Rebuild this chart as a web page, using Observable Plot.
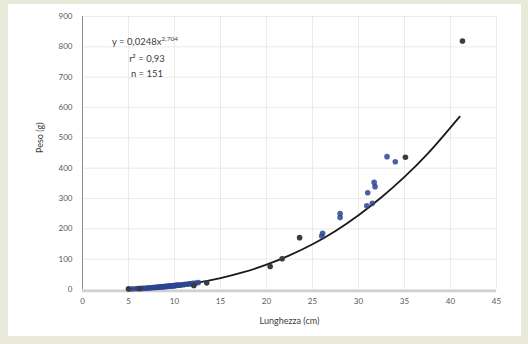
<!DOCTYPE html>
<html><head><meta charset="utf-8">
<script src="https://cdn.jsdelivr.net/npm/d3@7"></script>
<script src="https://cdn.jsdelivr.net/npm/@observablehq/plot@0.6"></script>
<style>
html,body{margin:0;padding:0;background:#e8e9d8;width:528px;height:344px;overflow:hidden}
#panel{position:absolute;left:8px;top:4px;width:513px;height:332px;background:#fff}
#chart{position:absolute;left:0;top:0}
</style></head>
<body><div id="panel"></div><div id="chart"></div>
<script>
const xTicks = [0,5,10,15,20,25,30,35,40,45];
const yTicks = [0,100,200,300,400,500,600,700,800,900];

const blueLen = [5.4,5.8,6.0,6.3,6.5,6.7,6.9,7.0,7.2,7.3,7.5,7.6,7.8,7.9,8.0,8.1,8.2,8.3,8.4,8.5,8.6,8.7,8.8,8.9,9.0,9.1,9.2,9.3,9.4,9.5,9.6,9.7,9.8,9.9,10.0,10.1,10.2,10.3,10.4,10.5,10.6,10.8,11.0,11.2,11.4,11.6,11.8,12.0,12.3,12.6,
  26.0,26.1,28.0,28.0,31.0,31.7,31.8,30.9,31.5,33.1,34.0];
const blueWt = [2.0,2.6,3.2,3.4,3.6,4.1,4.3,4.8,5.0,5.6,5.5,6.4,6.5,7.2,6.8,7.5,7.4,8.2,7.9,8.8,8.4,9.5,9.1,10.0,9.4,10.5,10.1,11.2,10.6,11.8,11.0,12.5,11.9,13.2,12.3,13.6,13.0,14.5,13.8,15.0,14.2,15.8,16.0,17.5,17.2,19.0,18.6,20.5,21.0,23.0,
  176,185,237,250,319,353,339,276,284,438,421];
const darkLen = [5.0,6.2,12.1,13.5,20.4,21.7,23.6,35.1,41.3];
const darkWt  = [2,3,13,22,76,101,171,436,819];

const trendLen = [5,7.5,10,12.5,15,17.5,20,22.5,25,27.5,30,32.5,35,37.5,41];
const trendWt  = [1.9,5.8,12.5,22.9,37.6,57.0,81.7,112.5,149,193,245,304,371,447,570];

const blue = blueLen.map((x,i)=>({x, y: blueWt[i]}));
const dark = darkLen.map((x,i)=>({x, y: darkWt[i]}));
const trend = trendLen.map((x,i)=>({x, y: trendWt[i]}));

const font = "Lato, 'Open Sans', sans-serif";
const plot = Plot.plot({
  width: 528, height: 344,
  marginLeft: 82, marginRight: 32, marginTop: 16, marginBottom: 55,
  style: {background: "transparent", fontFamily: font, fontSize: "8px", color: "#595959"},
  x: {domain: [0,45], ticks: xTicks, label: null, tickSize: 0, tickPadding: 9},
  y: {domain: [0,900], ticks: yTicks, label: null, tickSize: 0, tickPadding: 10},
  marks: [
    Plot.gridX(xTicks, {stroke: "#e6e6e6", strokeOpacity: 1, strokeWidth: 0.8}),
    Plot.gridY(yTicks, {stroke: "#e6e6e6", strokeOpacity: 1, strokeWidth: 0.8}),
    Plot.ruleY([0], {stroke: "#d0d0d0", strokeWidth: 2.5, dy: 1.5}),
    Plot.ruleX([0], {stroke: "#8c8c8c", strokeWidth: 1}),
    Plot.line(trend, {x: "x", y: "y", curve: "catmull-rom", stroke: "#1a1a1a", strokeWidth: 1.8}),
    Plot.dot(blue, {x: "x", y: "y", r: 2.8, fill: "#2e4590", fillOpacity: 0.85, stroke: "none"}),
    Plot.dot(dark, {x: "x", y: "y", r: 2.8, fill: "#3a3a46", stroke: "none"}),
    Plot.text(["Peso (g)"], {frameAnchor: "left", dx: -42, rotate: -90, fontSize: 9, fill: "#404040"}),
    Plot.text(["Lunghezza (cm)"], {frameAnchor: "bottom", dy: 34, fontSize: 9, fill: "#404040"})
  ]
});
document.getElementById("chart").appendChild(plot);

const svg = d3.select(plot);
const g = svg.append("g").attr("font-family", font).attr("font-size", 9.5).attr("fill", "#404040").attr("text-anchor", "middle");
const t1 = g.append("text").attr("x", 145).attr("y", 45);
t1.append("tspan").text("y = 0,0248x");
t1.append("tspan").attr("dy", -4).attr("font-size", 6.5).text("2,704");
g.append("text").attr("x", 147).attr("y", 62).text("r² = 0,93");
g.append("text").attr("x", 147).attr("y", 77).text("n = 151");
</script></body></html>
